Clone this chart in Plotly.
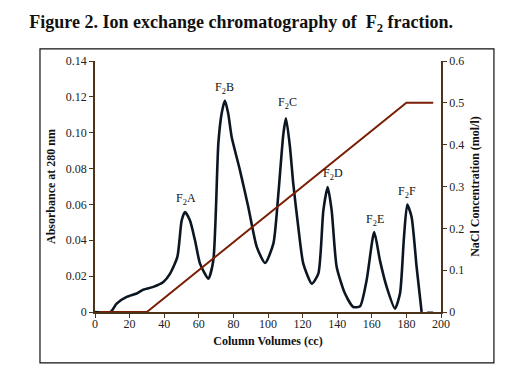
import plotly.graph_objects as go

# Absorbance at 280 nm vs column volume
vol = [0, 9, 12.5, 18.3, 24.1, 27.9, 33.7, 39.5, 43.4, 47.6, 50.1, 52, 54.9, 57.8, 60.7,
       65.5, 68.4, 71.3, 73.2, 75.1, 77, 79, 83.8, 88.6, 93.5, 98.3, 103.1, 106, 108.9,
       110.4, 112.7, 114.6, 117.5, 120.4, 125.3, 129.1, 132, 134.5, 136.8, 139.7, 144.5,
       149.3, 153.2, 157, 161.4, 164.7, 168.6, 173.4, 176.3, 178.6, 180.5, 183, 185.9, 188.8]
absorb = [0, 0, 0.0047, 0.0084, 0.0103, 0.0125, 0.014, 0.0167, 0.0214, 0.0307, 0.051, 0.0558,
          0.051, 0.040, 0.027, 0.0186, 0.0288, 0.094, 0.1107, 0.118, 0.1107, 0.0976, 0.079,
          0.0586, 0.0363, 0.0273, 0.0381, 0.066, 0.0995, 0.108, 0.092, 0.0716, 0.0474, 0.027,
          0.0158, 0.0214, 0.0567, 0.0697, 0.0567, 0.0251, 0.0103, 0.0028, 0.0032, 0.0177,
          0.0446, 0.0288, 0.014, 0.0019, 0.0103, 0.0418, 0.0599, 0.053, 0.0251, 0]
tail_vol = [192, 195.5]
tail_abs = [0, 0]

# NaCl gradient
nacl_vol = [3, 30, 180, 195.5]
nacl_conc = [0, 0, 0.5, 0.5]

# Peak labels
peak_names = ["F<sub>2</sub>A", "F<sub>2</sub>B", "F<sub>2</sub>C", "F<sub>2</sub>D", "F<sub>2</sub>E", "F<sub>2</sub>F"]
peak_x = [52.6, 74.6, 111, 137.6, 161.8, 180.3]
peak_y = [0.0575, 0.1195, 0.1108, 0.0715, 0.046, 0.0615]

x_ticks = [0, 20, 40, 60, 80, 100, 120, 140, 160, 180, 200]
y_ticks = [0, 0.02, 0.04, 0.06, 0.08, 0.10, 0.12, 0.14]
y_ticktext = ["0", "0.02", "0.04", "0.06", "0.08", "0.10", "0.12", "0.14"]
y2_ticks = [0, 0.1, 0.2, 0.3, 0.4, 0.5, 0.6]
y2_ticktext = ["0", "0.1", "0.2", "0.3", "0.4", "0.5", "0.6"]

axis_col = "#4a3318"
serif = "Liberation Serif, Times New Roman, serif"

fig = go.Figure()
fig.add_trace(go.Scatter(x=nacl_vol, y=nacl_conc, yaxis="y2", mode="lines",
                         line=dict(color="#7a1e05", width=2), hoverinfo="skip"))
fig.add_trace(go.Scatter(x=vol, y=absorb, mode="lines",
                         line=dict(color="#0c1622", width=2.6, shape="spline", smoothing=0.6),
                         hoverinfo="skip"))
fig.add_trace(go.Scatter(x=tail_vol, y=tail_abs, mode="lines",
                         line=dict(color="#7f8c99", width=2), hoverinfo="skip"))

for name, px, py in zip(peak_names, peak_x, peak_y):
    fig.add_annotation(x=px, y=py, text=name, showarrow=False, yanchor="bottom",
                       font=dict(family=serif, size=12, color="#111"))

tickfont = dict(family=serif, size=12, color="#222")
titlefont = dict(family=serif, size=12, color="#111")

fig.update_layout(
    width=508, height=365,
    margin=dict(l=87, r=75, t=53, b=61),
    paper_bgcolor="white", plot_bgcolor="white",
    showlegend=False,
    title=dict(text="<b>Figure 2. Ion exchange chromatography of  F<sub>2</sub> fraction.</b>",
               x=0.459, xanchor="center", y=0.962, yanchor="middle",
               font=dict(family=serif, size=18, color="#111")),
    xaxis=dict(range=[0, 200], tickvals=x_ticks, showgrid=False, zeroline=False,
               showline=True, linecolor=axis_col, linewidth=1.5,
               ticks="outside", ticklen=4, tickcolor=axis_col, tickfont=tickfont,
               ticklabelstandoff=-4,
               title=dict(text="<b>Column Volumes (cc)</b>", font=titlefont, standoff=6)),
    yaxis=dict(range=[0, 0.14], tickvals=y_ticks, ticktext=y_ticktext, showgrid=False,
               zeroline=False, showline=True, linecolor=axis_col, linewidth=1.5,
               ticks="outside", ticklen=4, tickcolor=axis_col, tickfont=tickfont,
               title=dict(text="<b>Absorbance at 280 nm</b>", font=titlefont, standoff=8)),
    yaxis2=dict(range=[0, 0.6], tickvals=y2_ticks, ticktext=y2_ticktext, overlaying="y",
                side="right", showgrid=False, zeroline=False, showline=True,
                linecolor=axis_col, linewidth=1.5, ticks="outside", ticklen=4,
                tickcolor=axis_col, tickfont=tickfont,
                title=dict(text="<b>NaCl Concentration (mol/l)</b>", font=titlefont, standoff=7)),
)

# Frame around the figure body
fig.add_shape(type="rect", xref="paper", yref="paper",
              x0=-0.159, x1=1.153, y0=-0.203, y1=1.048,
              line=dict(color="#111", width=1.2), layer="below")

fig.write_html("out.html")
